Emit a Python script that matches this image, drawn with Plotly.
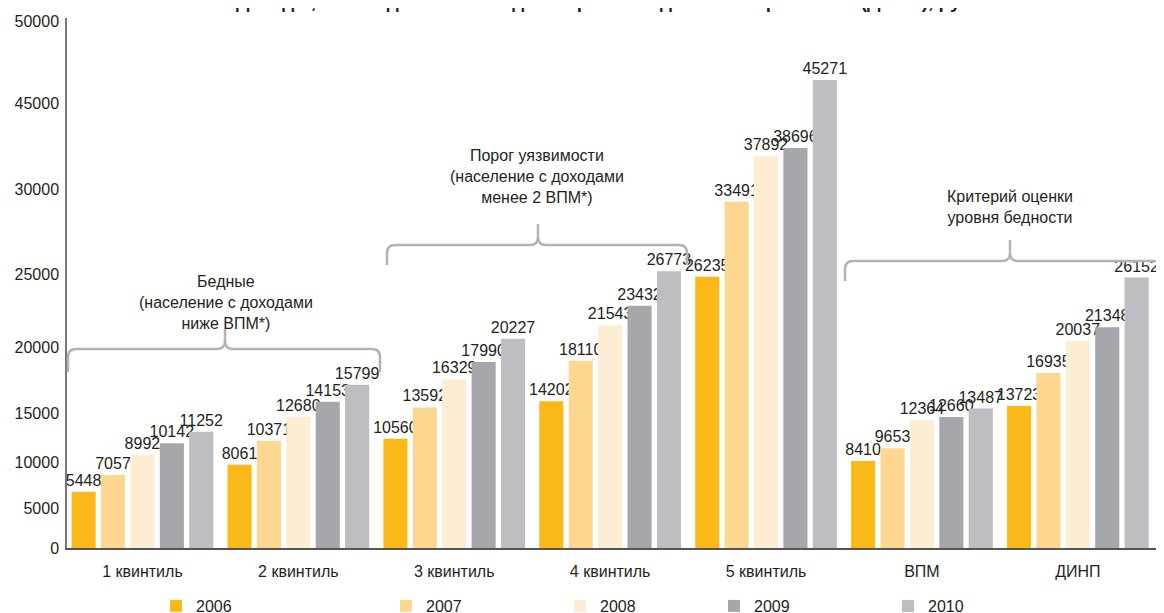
import plotly.graph_objects as go

categories = ["1 квинтиль", "2 квинтиль", "3 квинтиль", "4 квинтиль", "5 квинтиль", "ВПМ", "ДИНП"]
years = ["2006", "2007", "2008", "2009", "2010"]
v2006 = [5448, 8061, 10560, 14202, 26235, 8410, 13723]
v2007 = [7057, 10371, 13592, 18110, 33491, 9653, 16935]
v2008 = [8992, 12680, 16329, 21543, 37892, 12364, 20037]
v2009 = [10142, 14153, 17990, 23432, 38696, 12660, 21348]
v2010 = [11252, 15799, 20227, 26773, 45271, 13487, 26152]
series = [v2006, v2007, v2008, v2009, v2010]
colors = ["#FBB919", "#FDD790", "#FDEED3", "#A6A7AB", "#BDBEC2"]

ytick_text = ["0", "5000", "10000", "15000", "20000", "25000", "30000", "45000", "50000"]
ytick_pos = [0, 3868, 8317, 13056, 19439, 26499, 34720, 43037, 50967]

title_text = "Доходы, ВПМ и денежный индикатор необходимого потребления (ДИНП), руб."

FONT = "Liberation Sans, Arial, sans-serif"
TXT = "#231f20"

# the page body has an 8px margin, so the figure is offset by 8px
OFF = 8
W, H = 1164 - OFF, 613 - OFF
L, T = 67 - OFF, 18 - OFF
R = W - (1160 - OFF)
B = H - (548 - OFF)
PW = W - L - R
PH = H - T - B


def px(x):  # window pixel -> paper
    return (x - OFF - L) / PW


def py(y):
    return (H - B - (y - OFF)) / PH


fig = go.Figure()
legend_left = [170, 400, 574, 728, 902]
for i, (yr, vals, col) in enumerate(zip(years, series, colors)):
    lg = "legend" if i == 0 else f"legend{i+1}"
    fig.add_trace(go.Bar(
        x=categories, y=vals, name=yr, marker=dict(color=col, line=dict(width=0)),
        text=[str(v) for v in vals], textposition="outside", constraintext="none",
        textfont=dict(family=FONT, size=16, color=TXT), cliponaxis=False,
        legend=lg,
    ))

legends = {}
for i, xl in enumerate(legend_left):
    key = "legend" if i == 0 else f"legend{i+1}"
    legends[key] = dict(
        x=px(xl - 14), xanchor="left", y=py(606), yanchor="middle",
        orientation="h", bgcolor="rgba(0,0,0,0)",
        font=dict(family=FONT, size=16, color=TXT),
    )


def brace(x0, x1, xm, yline, yend, ytop, r=8):
    def P(x, y):
        return f"{px(x):.5f},{py(y):.5f}"
    d = (f"M {P(x0, yend)} L {P(x0, yline + r)} Q {P(x0, yline)} {P(x0 + r, yline)} "
         f"L {P(xm - r, yline)} Q {P(xm, yline)} {P(xm, yline - r)} L {P(xm, ytop)} "
         f"M {P(xm, yline - r)} Q {P(xm, yline)} {P(xm + r, yline)} "
         f"L {P(x1 - r, yline)} Q {P(x1, yline)} {P(x1, yline + r)} L {P(x1, yend)}")
    return dict(type="path", xref="paper", yref="paper", path=d,
                line=dict(color="#B3B3B3", width=2.5), layer="above")


shapes = [
    brace(68, 380, 225, 349, 372, 329),
    brace(387, 687, 538, 245, 265, 224),
    brace(845, 1168, 1010, 261, 281, 240),
]

annotations = [
    dict(text="Бедные<br>(население с доходами<br>ниже ВПМ*)", x=px(226), y=py(302),
         xref="paper", yref="paper", showarrow=False, xanchor="center", yanchor="middle",
         font=dict(family=FONT, size=16, color=TXT)),
    dict(text="Порог уязвимости<br>(население с доходами<br>менее 2 ВПМ*)", x=px(537), y=py(176),
         xref="paper", yref="paper", showarrow=False, xanchor="center", yanchor="middle",
         font=dict(family=FONT, size=16, color=TXT)),
    dict(text="Критерий оценки<br>уровня бедности", x=px(1010), y=py(207),
         xref="paper", yref="paper", showarrow=False, xanchor="center", yanchor="middle",
         font=dict(family=FONT, size=16, color=TXT)),
    dict(text="<b>" + title_text + "</b>", x=px(607), y=py(14),
         xref="paper", yref="paper", showarrow=False, xanchor="center", yanchor="bottom",
         font=dict(family=FONT, size=19, color=TXT)),
]

fig.update_layout(
    width=W, height=H,
    margin=dict(l=L, r=R, t=T, b=B, pad=0, autoexpand=False),
    paper_bgcolor="white", plot_bgcolor="white",
    barmode="group", bargap=0.057, bargroupgap=0.18,
    font=dict(family=FONT, size=16, color=TXT),
    xaxis=dict(
        range=[-0.484, 6.527], showgrid=False, showline=True, linecolor="#555555",
        linewidth=1.5, ticks="", tickfont=dict(family=FONT, size=16, color=TXT),
        ticklabelstandoff=8, zeroline=False, automargin=False,
    ),
    yaxis=dict(
        range=[0, 51257], tickmode="array", tickvals=ytick_pos, ticktext=ytick_text,
        showgrid=False, zeroline=False, showline=True, linecolor="#777777", linewidth=1.5,
        ticks="", tickfont=dict(family=FONT, size=16, color=TXT), ticklabelstandoff=3,
        automargin=False,
    ),
    shapes=shapes,
    annotations=annotations,
    showlegend=True,
    **legends,
)

fig.write_html("out.html")
